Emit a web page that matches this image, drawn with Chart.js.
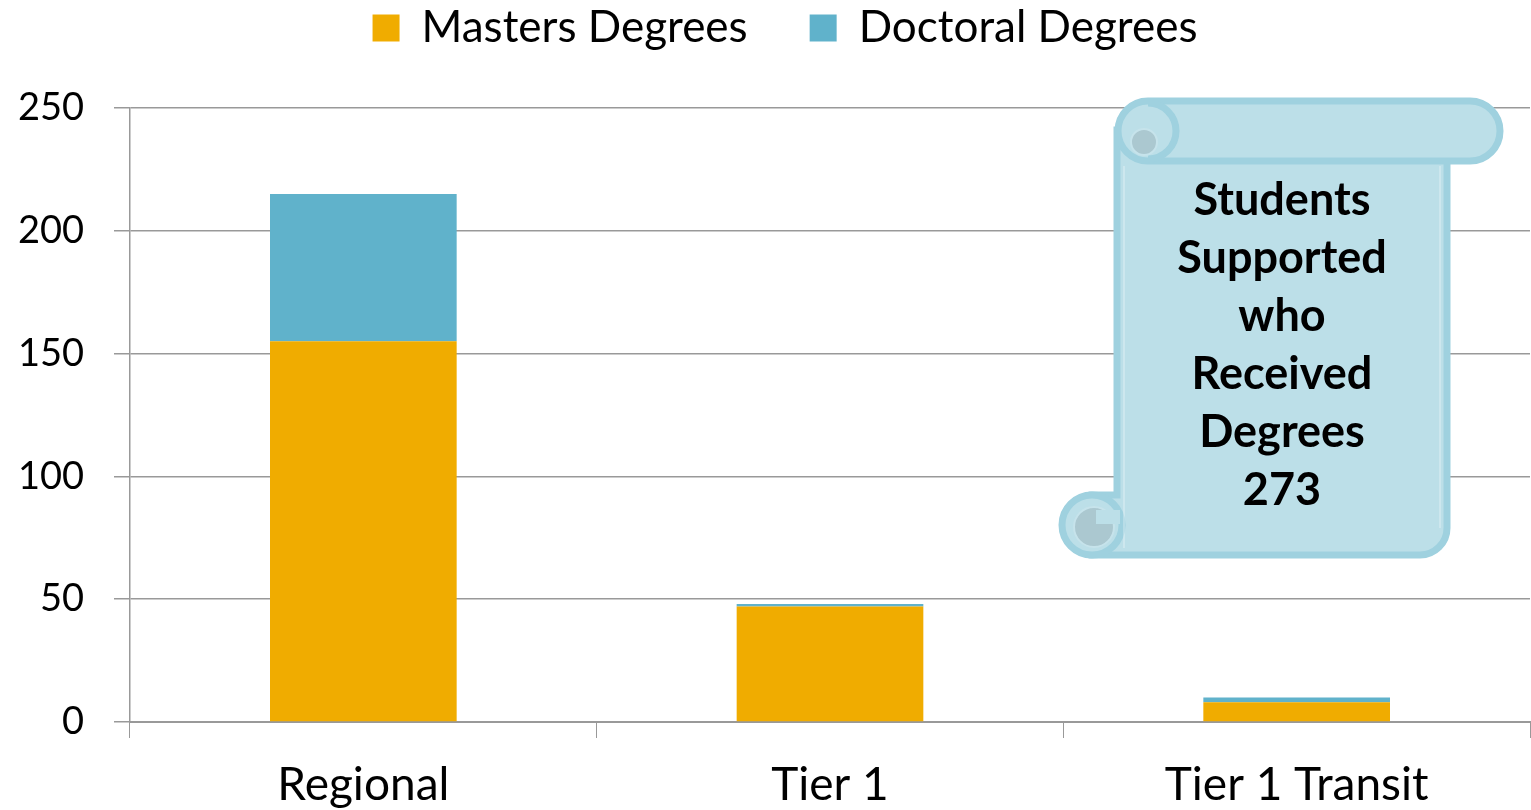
<!DOCTYPE html>
<html>
<head>
<meta charset="utf-8">
<script src="https://cdn.jsdelivr.net/npm/chart.js@4.4.0/dist/chart.umd.min.js"></script>
<style>
  html, body { margin: 0; padding: 0; background: #fff; }
  #wrap { width: 1531px; height: 810px; }
</style>
</head>
<body>
<div id="wrap"><canvas id="grafica" width="1531" height="810"></canvas></div>
<script>
const categorias = ["Regional", "Tier 1", "Tier 1 Transit"];
const masters = [155, 47, 8];
const doctoral = [60, 1, 2];
const totalTexto = ["Students", "Supported", "who", "Received", "Degrees", "273"];

const fuente = "Lato, 'Open Sans', sans-serif";

// espacio y posicion de la leyenda
const margenLeyenda = {
    id: "margenLeyenda",
    beforeInit(chart) {
        const fitOriginal = chart.legend.fit;
        chart.legend.fit = function () {
            fitOriginal.bind(chart.legend)();
            this.height = 108;
        };
    },
    afterLayout(chart) {
        chart.legend.top = -56;
        chart.legend.left += 40;
    }
};

// pergamino con el total
const pergamino = {
    id: "pergamino",
    afterDraw(chart) {
        const ctx = chart.ctx;
        const relleno = "#BCDFE8";
        const borde = "#9FD1DF";
        ctx.save();
        ctx.lineWidth = 7;
        ctx.strokeStyle = borde;
        ctx.fillStyle = relleno;

        // cuerpo
        ctx.beginPath();
        ctx.moveTo(1117, 130);
        ctx.lineTo(1447, 130);
        ctx.lineTo(1447, 528);
        ctx.arcTo(1447, 555, 1420, 555, 27);
        ctx.lineTo(1092, 555);
        ctx.lineTo(1092, 495);
        ctx.lineTo(1117, 495);
        ctx.closePath();
        ctx.fill();
        ctx.stroke();

        // rollo de abajo
        ctx.beginPath();
        ctx.arc(1092, 525, 30, 0, Math.PI * 2);
        ctx.fill();
        ctx.stroke();
        ctx.beginPath();
        ctx.arc(1094, 527, 20, 0, Math.PI * 2);
        ctx.fillStyle = "#ABC8D0";
        ctx.fill();
        ctx.lineWidth = 2;
        ctx.strokeStyle = "#C6E3EB";
        ctx.stroke();
        ctx.fillStyle = relleno;
        ctx.fillRect(1096, 510, 24, 14);

        // rollo de arriba
        ctx.lineWidth = 7;
        ctx.strokeStyle = borde;
        ctx.beginPath();
        ctx.moveTo(1148, 101);
        ctx.lineTo(1470, 101);
        ctx.arc(1470, 131, 30, -Math.PI / 2, Math.PI / 2);
        ctx.lineTo(1148, 161);
        ctx.arc(1148, 131, 30, Math.PI / 2, Math.PI * 1.5);
        ctx.closePath();
        ctx.fill();
        ctx.stroke();
        ctx.beginPath();
        ctx.arc(1148, 131, 28, -Math.PI / 2, Math.PI / 2);
        ctx.stroke();
        ctx.beginPath();
        ctx.arc(1144, 142, 13, 0, Math.PI * 2);
        ctx.fillStyle = "#ABC8D0";
        ctx.fill();
        ctx.lineWidth = 2;
        ctx.strokeStyle = "#C6E3EB";
        ctx.stroke();

        // lineas interiores
        ctx.strokeStyle = "rgba(255,255,255,0.35)";
        ctx.lineWidth = 1.5;
        ctx.beginPath();
        ctx.moveTo(1124, 166);
        ctx.lineTo(1124, 548);
        ctx.moveTo(1440, 166);
        ctx.lineTo(1440, 528);
        ctx.stroke();

        // texto
        ctx.fillStyle = "#000";
        ctx.textAlign = "center";
        ctx.textBaseline = "middle";
        ctx.font = "bold 45px " + fuente;
        totalTexto.forEach((t, i) => {
            ctx.fillText(t, 1282, 200 + i * 58);
        });
        ctx.restore();
    }
};

const ctx = document.getElementById("grafica").getContext("2d");
window.grafica = new Chart(ctx, {
    type: "bar",
    data: {
        labels: categorias,
        datasets: [{
            label: "Masters Degrees",
            data: masters,
            backgroundColor: "#F0AC00",
            barPercentage: 0.4,
            categoryPercentage: 1
        }, {
            label: "Doctoral Degrees",
            data: doctoral,
            backgroundColor: "#60B2CB",
            barPercentage: 0.4,
            categoryPercentage: 1
        }]
    },
    options: {
        responsive: false,
        animation: false,
        layout: { padding: { top: 0, right: 1, left: 0, bottom: 0 } },
        plugins: {
            legend: {
                position: "top",
                labels: {
                    boxWidth: 27,
                    boxHeight: 27,
                    padding: 62,
                    color: "#000",
                    font: { family: fuente, size: 44 }
                }
            },
            tooltip: { enabled: false }
        },
        scales: {
            x: {
                stacked: true,
                grid: {
                    drawOnChartArea: false,
                    color: "#999",
                    tickLength: 16,
                    offset: true
                },
                border: { color: "#999", width: 2 },
                ticks: {
                    color: "#000",
                    padding: 20,
                    font: { family: fuente, size: 46 }
                },
                afterFit(scale) { scale.height = 88; }
            },
            y: {
                stacked: true,
                min: 0,
                max: 250,
                grid: {
                    color: "#999",
                    lineWidth: 1.5,
                    tickLength: 16
                },
                border: { color: "#999", width: 1.5 },
                ticks: {
                    stepSize: 50,
                    color: "#000",
                    padding: 30,
                    font: { family: fuente, size: 38 }
                },
                afterFit(scale) { scale.width = 130; }
            }
        }
    },
    plugins: [margenLeyenda, pergamino]
});
</script>
</body>
</html>
